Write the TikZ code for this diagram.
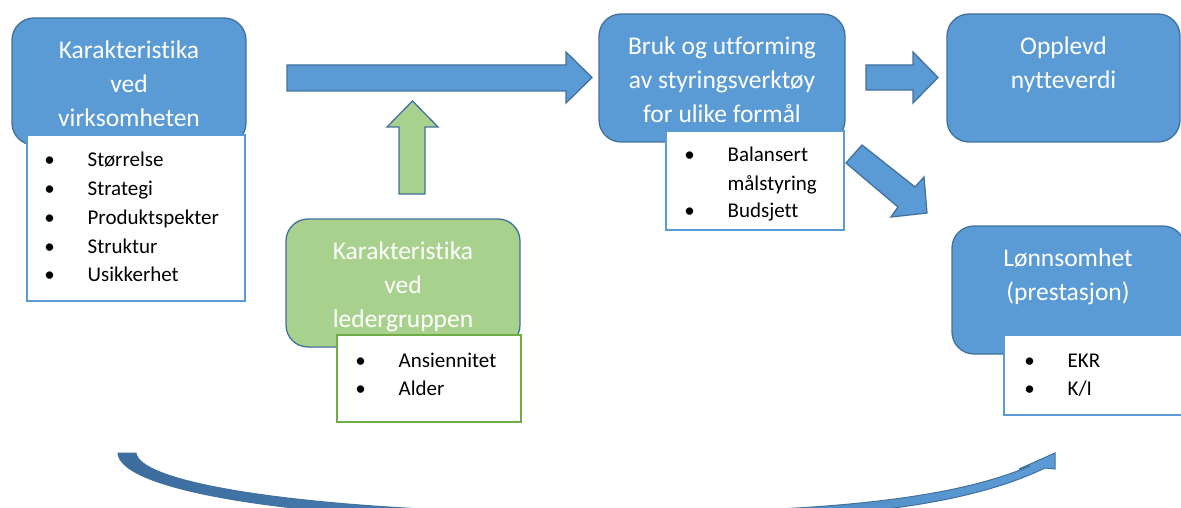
\documentclass[tikz,border=0pt]{standalone}
\usepackage{fontspec}
\setmainfont{Carlito}[Ligatures=NoCommon]
\usepackage{tikz}
\usetikzlibrary{shapes, arrows.meta, positioning}
\definecolor{hovedbla}{HTML}{5B9BD5}
\definecolor{kantbla}{HTML}{41719C}
\definecolor{morkbla}{HTML}{3D6C9E}
\definecolor{lysgronn}{HTML}{A9D18E}
\definecolor{kantgronn}{HTML}{70AD47}
\newcommand{\pkt}[1]{\llap{\makebox[76pt][c]{\textbullet}}#1}

\begin{document}
\begin{tikzpicture}[x=1pt, y=-1pt, line width=1.3pt,
    boks/.style={draw=kantbla, fill=hovedbla, rounded corners=22pt, minimum width=234pt, minimum height=128pt, inner sep=0pt},
    liste/.style={draw=hovedbla, fill=white, rectangle, inner sep=0pt},
    tittel/.style={text=white, align=center, inner sep=0pt, font=\fontsize{25.5}{34}\selectfont},
    punkt/.style={anchor=base west, inner sep=0pt, font=\fontsize{21}{28}\selectfont},
    blokkpil/.style={draw=kantbla, fill=hovedbla, line join=miter}]
    \useasboundingbox (0,0) rectangle (1181,508);
    \clip (0,0) rectangle (1181,508);

    \node [boks, minimum height=127pt] (virk) at (129,81.5) {};
    \node [tittel] (virktekst) at (129,84) {Karakteristika\\ved\\virksomheten};
    \node [liste, minimum width=218pt, minimum height=166pt] (virkliste) at (136,218) {};
    \foreach \t [count=\i] in {Størrelse,Strategi,Produktspekter,Struktur,Usikkerhet}
        \node [punkt] (virk\i) at (87,{167+28.7*(\i-1)}) {\pkt{\t}};

    \node [boks, minimum width=246pt] (bruk) at (722,78) {};
    \node [tittel] (bruktekst) at (722,79.5) {Bruk og utforming\\av styringsverktøy\\for ulike formål};
    \node [liste, minimum width=178pt, minimum height=99pt] (brukliste) at (755,180.5) {};
    \node [punkt] (bruk1) at (727,162) {\pkt{Balansert}};
    \node [punkt] (bruk2) at (727,190) {målstyring};
    \node [punkt] (bruk3) at (727,217) {\pkt{Budsjett}};

    \node [boks, minimum width=233pt] (nytte) at (1063.5,78) {};
    \node [tittel] (nyttetekst) at (1063.5,64.5) {Opplevd\\nytteverdi};

    \node [boks, fill=lysgronn] (leder) at (403,283) {};
    \node [tittel] (ledertekst) at (403,287) {Karakteristika\\ved\\ledergruppen};
    \node [liste, draw=kantgronn, minimum width=184pt, minimum height=87pt] (lederliste) at (429,378.5) {};
    \node [punkt] (leder1) at (398,367) {\pkt{Ansiennitet}};
    \node [punkt] (leder2) at (398,395) {\pkt{Alder}};

    \node [boks, minimum width=233pt] (lonn) at (1068.5,290) {};
    \node [tittel] (lonntekst) at (1068,277) {Lønnsomhet\\(prestasjon)};
    \node [liste, minimum width=186pt, minimum height=80pt] (lonnliste) at (1097,375) {};
    \node [punkt] (lonn1) at (1067,367) {\pkt{EKR}};
    \node [punkt] (lonn2) at (1067,395) {\pkt{K/I}};

    \draw [blokkpil] (287,65) -- (566,65) -- (566,52) -- (592,77.5) -- (566,103) -- (566,91) -- (287,91) -- cycle;
    \draw [blokkpil, fill=lysgronn] (399,194) -- (399,127) -- (387,127) -- (412.5,101) -- (438,127) -- (425,127) -- (425,194) -- cycle;
    \draw [blokkpil] (866,65) -- (913,65) -- (913,52) -- (938,77.5) -- (913,103) -- (913,90) -- (866,90) -- cycle;
    \draw [blokkpil] (862,145) -- (915,187) -- (924,177) -- (927,213) -- (891,217) -- (898,207) -- (846,163) -- cycle;

    \draw [draw=kantbla, line width=1pt, left color=morkbla, right color=hovedbla]
        (118,453) .. controls (120,491) and (300,522) .. (590,522)
        .. controls (800,522) and (952,513) .. (1045,468)
        -- (1055,469) -- (1055,453) -- (1019,469) -- (1030,466)
        .. controls (943,503) and (800,513) .. (590,513)
        .. controls (330,513) and (140,486) .. (136,453) -- cycle;
\end{tikzpicture}
\end{document}
